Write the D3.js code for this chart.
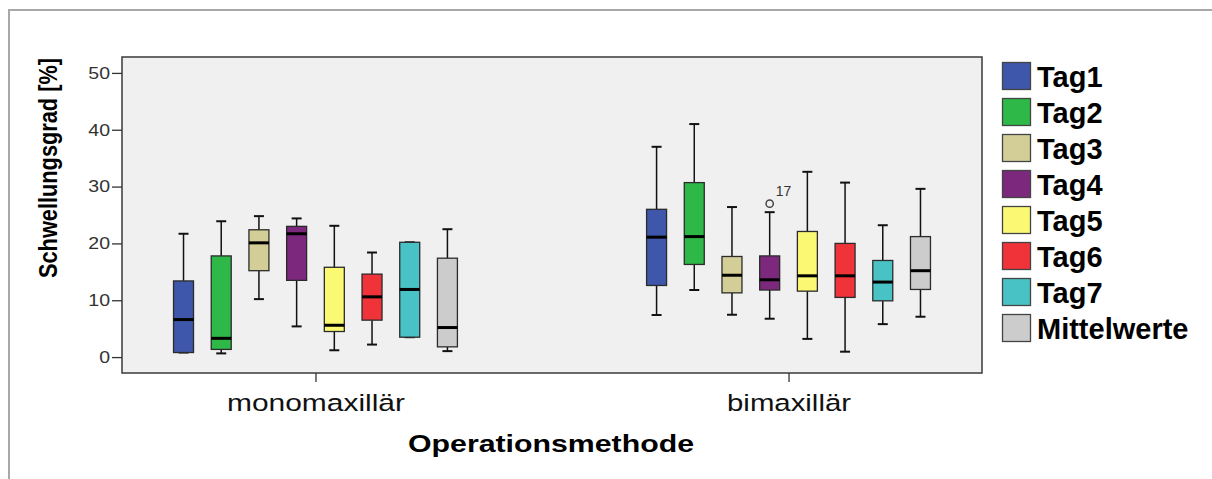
<!DOCTYPE html>
<html>
<head>
<meta charset="utf-8">
<script src="https://cdn.jsdelivr.net/npm/d3@7"></script>
<style>
  html, body { margin: 0; padding: 0; background: #ffffff; }
  svg { display: block; font-family: "Liberation Sans", Arial, sans-serif; }
</style>
</head>
<body>
<svg id="chart" width="1212" height="479"></svg>
<script>
// ---- data ----
const categories = ["monomaxillär", "bimaxillär"];
const seriesNames = ["Tag1", "Tag2", "Tag3", "Tag4", "Tag5", "Tag6", "Tag7", "Mittelwerte"];
const seriesColors = ["#3e57aa", "#2eb848", "#d3ce97", "#7c287d", "#fbf873", "#ef3338", "#48c2c5", "#cccccc"];
const yTicks = [0, 10, 20, 30, 40, 50];

// each: [lower whisker, Q1, median, Q3, upper whisker] per category
const tag1 = [[0.8, 0.8, 6.6, 13.4, 21.7], [7.4, 12.6, 21.1, 26.0, 37.0]];
const tag2 = [[0.65, 1.35, 3.3, 17.8, 23.9], [11.8, 16.3, 21.2, 30.7, 41.0]];
const tag3 = [[10.2, 15.2, 20.1, 22.4, 24.8], [7.45, 11.3, 14.4, 17.7, 26.4]];
const tag4 = [[5.4, 13.5, 21.7, 23.0, 24.4], [6.75, 11.8, 13.6, 17.8, 25.5]];
const tag5 = [[1.2, 4.5, 5.6, 15.8, 23.1], [3.2, 11.6, 14.3, 22.1, 32.6]];
const tag6 = [[2.2, 6.5, 10.6, 14.6, 18.4], [0.95, 10.5, 14.3, 20.0, 30.7]];
const tag7 = [[3.5, 3.5, 11.9, 20.2, 20.2], [5.8, 9.9, 13.2, 17.0, 23.2]];
const mittelwerte = [[1.05, 1.8, 5.2, 17.4, 22.5], [7.1, 11.9, 15.2, 21.2, 29.6]];
const seriesStats = [tag1, tag2, tag3, tag4, tag5, tag6, tag7, mittelwerte];

const outliers = [{ category: "bimaxillär", series: "Tag4", value: 27.0, label: "17" }];

const yTitle = "Schwellungsgrad [%]";
const xTitle = "Operationsmethode";

// ---- layout ----
const svg = d3.select("#chart");
const plot = { left: 122, right: 982, top: 57, bottom: 373 };

const x = d3.scalePoint().domain(categories).range([plot.left, plot.right]).padding(0.409);
const inner = d3.scaleBand().domain(seriesNames).range([-150.8, 150.8]).paddingInner(0.47).paddingOuter(0.235);
const y = d3.scaleLinear().domain([-2.8, 52.8]).range([plot.bottom, plot.top]);

// outer frame
svg.append("path")
  .attr("d", `M9,479 L9,10 L1212,10`)
  .attr("fill", "none").attr("stroke", "#a8a8a8").attr("stroke-width", 2);

// plot background
svg.append("rect")
  .attr("x", plot.left).attr("y", plot.top)
  .attr("width", plot.right - plot.left).attr("height", plot.bottom - plot.top)
  .attr("fill", "#f0f0f0").attr("stroke", "#3a3a3a").attr("stroke-width", 1.5);

// y axis
const yAxis = svg.append("g")
  .attr("transform", `translate(${plot.left},0)`)
  .call(d3.axisLeft(y).tickValues(yTicks).tickSize(10).tickPadding(2).tickFormat(d3.format("d")));
yAxis.select(".domain").remove();
yAxis.selectAll(".tick line").attr("stroke", "#333").attr("stroke-width", 1.3);
yAxis.selectAll(".tick text")
  .attr("font-size", 16.5).attr("fill", "#333")
  .attr("font-family", "Liberation Sans, Arial, sans-serif")
  .attr("textLength", d => String(d).length * 10.85)
  .attr("lengthAdjust", "spacingAndGlyphs");

// x axis
const xAxis = svg.append("g")
  .attr("transform", `translate(0,${plot.bottom})`)
  .call(d3.axisBottom(x).tickSize(9).tickPadding(12));
xAxis.select(".domain").remove();
xAxis.selectAll(".tick line").attr("stroke", "#333").attr("stroke-width", 1.3);
const catWidths = { "monomaxillär": 178, "bimaxillär": 124 };
xAxis.selectAll(".tick text")
  .attr("font-size", 24.5).attr("fill", "#111")
  .attr("font-family", "Liberation Sans, Arial, sans-serif")
  .attr("dy", "0.71em")
  .attr("textLength", d => catWidths[d])
  .attr("lengthAdjust", "spacingAndGlyphs");

// axis titles
svg.append("text")
  .attr("transform", `translate(57,168) rotate(-90)`)
  .attr("text-anchor", "middle")
  .attr("font-size", 25).attr("font-weight", "bold").attr("fill", "#000")
  .attr("textLength", 220).attr("lengthAdjust", "spacingAndGlyphs")
  .text(yTitle);

svg.append("text")
  .attr("x", 551).attr("y", 452)
  .attr("text-anchor", "middle")
  .attr("font-size", 24).attr("font-weight", "bold").attr("fill", "#000")
  .attr("textLength", 286).attr("lengthAdjust", "spacingAndGlyphs")
  .text(xTitle);

// boxes
const bw = inner.bandwidth();
const groups = svg.append("g");
seriesNames.forEach((s, si) => {
  categories.forEach((c, ci) => {
    const [lo, q1, med, q3, hi] = seriesStats[si][ci];
    const cx = x(c) + inner(s) + bw / 2;
    const g = groups.append("g");
    const capW = bw / 2;
    g.append("line").attr("x1", cx).attr("x2", cx).attr("y1", y(hi)).attr("y2", y(q3))
      .attr("stroke", "#111").attr("stroke-width", 1.5);
    g.append("line").attr("x1", cx).attr("x2", cx).attr("y1", y(q1)).attr("y2", y(lo))
      .attr("stroke", "#111").attr("stroke-width", 1.5);
    g.append("line").attr("x1", cx - capW / 2).attr("x2", cx + capW / 2).attr("y1", y(hi)).attr("y2", y(hi))
      .attr("stroke", "#111").attr("stroke-width", 2);
    g.append("line").attr("x1", cx - capW / 2).attr("x2", cx + capW / 2).attr("y1", y(lo)).attr("y2", y(lo))
      .attr("stroke", "#111").attr("stroke-width", 2);
    g.append("rect")
      .attr("x", cx - bw / 2).attr("y", y(q3))
      .attr("width", bw).attr("height", Math.max(0.5, y(q1) - y(q3)))
      .attr("fill", seriesColors[si]).attr("stroke", "#2b2b2b").attr("stroke-width", 1.3);
    g.append("line").attr("x1", cx - bw / 2).attr("x2", cx + bw / 2).attr("y1", y(med)).attr("y2", y(med))
      .attr("stroke", "#000").attr("stroke-width", 3);
  });
});

// outliers
outliers.forEach(o => {
  const cx = x(o.category) + inner(o.series) + bw / 2;
  svg.append("circle").attr("cx", cx).attr("cy", y(o.value)).attr("r", 3.6)
    .attr("fill", "none").attr("stroke", "#444").attr("stroke-width", 1.5);
  svg.append("text").attr("x", cx + 6).attr("y", y(o.value) - 8)
    .attr("font-size", 14).attr("fill", "#333").text(o.label);
});

// legend
const legend = svg.append("g").attr("transform", "translate(1002,62)");
seriesNames.forEach((s, i) => {
  const row = legend.append("g").attr("transform", `translate(0,${i * 36})`);
  row.append("rect").attr("x", 0.5).attr("y", 0.5).attr("width", 28).attr("height", 27)
    .attr("fill", seriesColors[i]).attr("stroke", "#444").attr("stroke-width", 1.3);
  row.append("text").attr("x", 35).attr("y", 25)
    .attr("font-size", 29).attr("font-weight", "bold").attr("fill", "#000")
    .text(s);
});
</script>
</body>
</html>
